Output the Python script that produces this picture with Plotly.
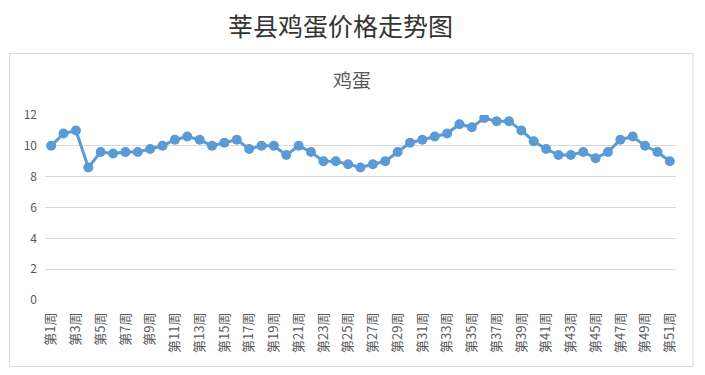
import plotly.graph_objects as go

weeks = [f"第{i}周" for i in range(1, 52)]
prices = [10.0, 10.8, 11.0, 8.6, 9.6, 9.5, 9.6, 9.6, 9.8, 10.0,
          10.4, 10.6, 10.4, 10.0, 10.2, 10.4, 9.8, 10.0, 10.0, 9.4,
          10.0, 9.6, 9.0, 9.0, 8.8, 8.6, 8.8, 9.0, 9.6, 10.2,
          10.4, 10.6, 10.8, 11.4, 11.2, 11.8, 11.6, 11.6, 11.0, 10.3,
          9.8, 9.4, 9.4, 9.6, 9.2, 9.6, 10.4, 10.6, 10.0, 9.6,
          9.0]
y_ticks = [0, 2, 4, 6, 8, 10, 12]
page_title = "莘县鸡蛋价格走势图"
chart_title = "鸡蛋"

# figure sits in the page with the browser's 8px body margin
W, H = 689, 359
L, R, T, B = 37, 21, 107, 67
pw, ph = W - L - R, H - T - B

def px_x(p):
    return (p - L) / pw

def px_y(p):
    return (H - B - p) / ph

font = "Noto Sans CJK SC, Microsoft YaHei, sans-serif"

fig = go.Figure(go.Scatter(
    x=weeks, y=prices, mode="lines+markers",
    line=dict(color="#5b9bd5", width=3),
    marker=dict(color="#5b9bd5", size=10),
    hoverinfo="x+y",
))

fig.update_layout(
    width=W, height=H,
    margin=dict(l=L, r=R, t=T, b=B),
    paper_bgcolor="white", plot_bgcolor="white",
    showlegend=False,
    font=dict(family=font, color="#595959", size=12),
    xaxis=dict(
        type="category", range=[-0.5, 50.5],
        tickmode="array", tickvals=weeks[::2], ticktext=weeks[::2],
        tickangle=-90, showgrid=False, showline=False, ticks="",
        zeroline=False, tickfont=dict(size=13, color="#595959"),
        ticklabelstandoff=9,
    ),
    yaxis=dict(
        range=[0, 12], tickvals=y_ticks, showgrid=True,
        gridcolor="#d9d9d9", gridwidth=1, zeroline=False, showline=False,
        ticks="", tickfont=dict(size=12, color="#595959"),
        ticklabelstandoff=7,
    ),
    shapes=[dict(
        type="rect", xref="paper", yref="paper",
        x0=px_x(1.5), x1=px_x(685), y0=px_y(358.5), y1=px_y(45.5),
        line=dict(color="#d9d9d9", width=1), fillcolor="rgba(0,0,0,0)",
        layer="below",
    )],
    annotations=[
        dict(text=page_title, xref="paper", yref="paper",
             x=px_x(332.5), y=px_y(17), showarrow=False,
             xanchor="center", yanchor="middle",
             font=dict(size=25, color="#333333", family=font)),
        dict(text=chart_title, xref="paper", yref="paper",
             x=px_x(344), y=px_y(72), showarrow=False,
             xanchor="center", yanchor="middle",
             font=dict(size=19, color="#595959", family=font)),
    ],
)

fig.write_html("out.html")
